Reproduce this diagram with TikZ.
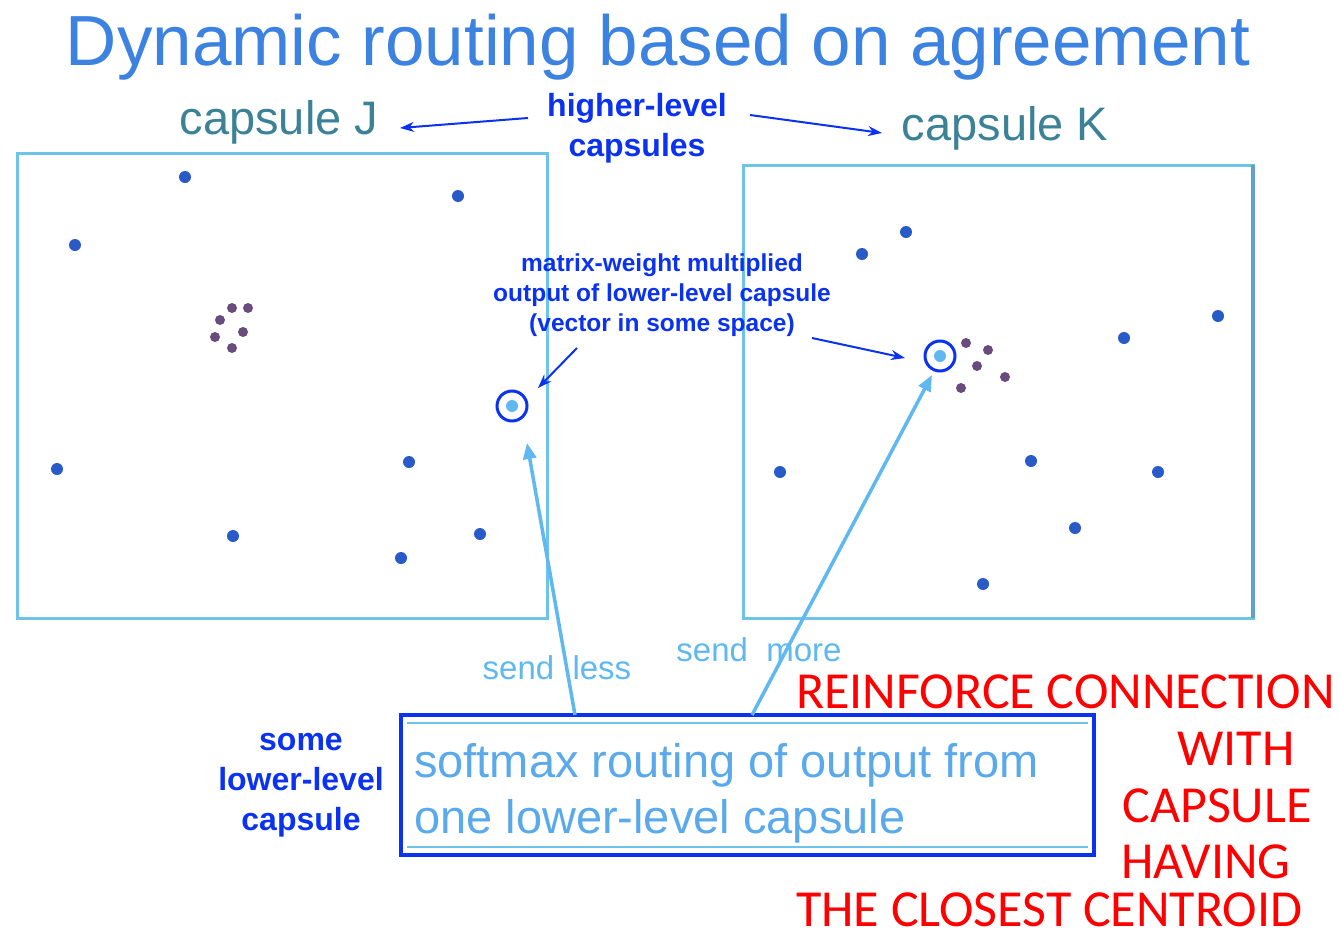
\documentclass[tikz,border=0pt]{standalone}
\usepackage{fontspec}
\setmainfont{Liberation Sans}
\newfontfamily\redfont{Carlito}
\usetikzlibrary{arrows.meta}
\definecolor{titleblue}{RGB}{60,130,225}
\definecolor{capteal}{RGB}{60,130,150}
\definecolor{deepblue}{RGB}{10,50,240}
\definecolor{lightblue}{RGB}{95,185,240}
\definecolor{boxblue}{RGB}{110,195,235}
\definecolor{edgeblue}{RGB}{95,160,205}
\definecolor{dotblue}{RGB}{40,90,200}
\definecolor{clusterpurple}{RGB}{105,75,125}
\definecolor{softblue}{RGB}{90,170,235}
\definecolor{redtext}{RGB}{255,0,0}
\tikzset{
  dotnode/.style={circle,fill=dotblue,inner sep=0pt,minimum size=12pt},
  clusternode/.style={circle,fill=clusterpurple,inner sep=0pt,minimum size=10pt},
  ringnode/.style={circle,draw=deepblue,line width=3pt,fill=white,inner sep=0pt,minimum size=30pt},
  innernode/.style={circle,fill=lightblue,inner sep=0pt,minimum size=12pt},
  spacebox/.style={draw=boxblue,line width=3pt},
  capname/.style={text=capteal,font=\fontsize{47}{50}\selectfont,inner sep=0pt},
  bluelabel/.style={text=deepblue,font=\bfseries\fontsize{32}{40}\selectfont,align=center,inner sep=0pt},
  smalllabel/.style={text=deepblue,font=\bfseries\fontsize{24.5}{30}\selectfont,align=center,inner sep=0pt},
  sendlabel/.style={text=lightblue,font=\fontsize{33}{36}\selectfont,inner sep=0pt},
  redlabel/.style={text=redtext,font=\redfont\fontsize{52}{56}\selectfont,inner sep=0pt,anchor=base},
  bluearrow/.style={draw=deepblue,line width=2pt,-{Stealth[length=14pt,width=10pt]}},
  sendarrow/.style={draw=lightblue,line width=3.5pt,-{Triangle[length=16pt,width=13pt]}}
}
\begin{document}
\begin{tikzpicture}[x=1pt,y=-1pt]
\useasboundingbox[fill=white] (0,0) rectangle (1339,940);

% title
\node[text=titleblue,font=\fontsize{71}{76}\selectfont,inner sep=0pt] (title) at (658,47) {Dynamic routing based on agreement};

% capsule names
\node[capname] (capJ) at (279,122) {capsule J};
\node[capname] (capK) at (1005,128) {capsule K};
\node[bluelabel] (higher) at (637,128) {higher-level\\capsules};
\coordinate (hlL) at (528,118);
\coordinate (hlR) at (750,115);
\draw[bluearrow] (hlL) -- (400,128) coordinate (jEnd);
\draw[bluearrow] (hlR) -- (882,133) coordinate (kEnd);

% boxes
\draw[spacebox] (17,153) rectangle (547,618);
\draw[spacebox] (743,165) rectangle (1253,618);
\draw[draw=edgeblue,line width=3.5pt] (1253,165) -- (1253,618);

% left dots
\foreach \i/\px/\py in {1/185/177,2/458/196,3/75/245,4/57/469,5/409/462,6/233/536,7/401/558,8/480/534}
  \node[dotnode] (dJ\i) at (\px,\py) {};
\foreach \i/\px/\py in {1/232/308,2/248/308,3/220/320,4/243/332,5/215/337,6/232/348}
  \node[clusternode] (cJ\i) at (\px,\py) {};
\node[ringnode] (ringJ) at (512,406) {};
\node[innernode] (vecJ) at (512,406) {};

% right dots
\foreach \i/\px/\py in {1/906/232,2/862/254,3/1218/316,4/1124/338,5/780/472,6/1031/461,7/1158/472,8/1075/528,9/983/584}
  \node[dotnode] (dK\i) at (\px,\py) {};
\foreach \i/\px/\py in {1/966/343,2/988/350,3/977/366,4/1005/377,5/961/388}
  \node[clusternode] (cK\i) at (\px,\py) {};
\node[ringnode] (ringK) at (940,356) {};
\node[innernode] (vecK) at (940,356) {};

% matrix-weight label
\node[smalllabel] (mw) at (662,295) {matrix-weight multiplied\\output of lower-level capsule\\(vector in some space)};
\coordinate (mwL) at (577,348);
\coordinate (mwR) at (812,338);
\draw[bluearrow] (mwL) -- (538,388) coordinate (mwLend);
\draw[bluearrow] (mwR) -- (905,358) coordinate (mwRend);

% bottom box
\node[draw=deepblue,line width=4pt,minimum width=693pt,minimum height=140pt,inner sep=0pt] (sbox) at (747.5,785) {};
\draw[draw=boxblue,line width=1.5pt] (407,723) -- (1088,723);
\draw[draw=boxblue,line width=1.5pt] (407,847) -- (1088,847);
\node[text=softblue,font=\fontsize{47}{56}\selectfont,align=left,anchor=west,inner sep=0pt] (stext) at (414,793) {softmax routing of output from\\one lower-level capsule};

% send arrows
\coordinate (sendL) at (575,715);
\coordinate (sendR) at (752,715);
\draw[sendarrow] (sendL) -- (527,443) coordinate (tipJ);
\draw[sendarrow] (sendR) -- (932,375) coordinate (tipK);
\node[sendlabel] (sless) at (557,668) {send \ less};
\node[sendlabel] (smore) at (759,650) {send \ more};

% lower-level label
\node[bluelabel] (lower) at (301,785) {some\\lower-level\\capsule};

% red text
\node[redlabel,anchor=base west] (r1) at (796,708) {REINFORCE CONNECTION};
\node[redlabel] (r2) at (1236,765) {WITH};
\node[redlabel] (r3) at (1217,822) {CAPSULE};
\node[redlabel] (r4) at (1206,878) {HAVING};
\node[redlabel,anchor=base west] (r5) at (796,926) {THE CLOSEST CENTROID};
\end{tikzpicture}
\end{document}
